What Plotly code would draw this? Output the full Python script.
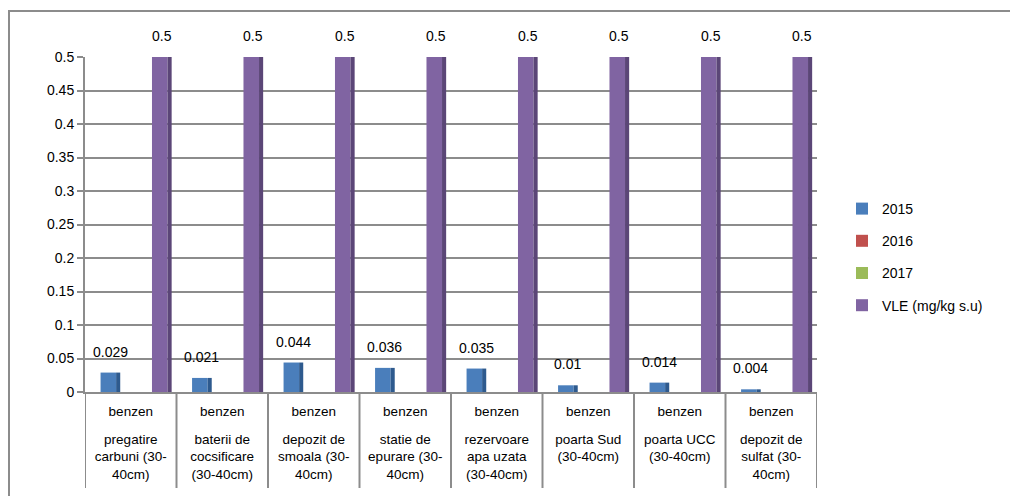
import plotly.graph_objects as go

compounds = ["benzen"] * 8
locations = [
    "pregatire<br>carbuni (30-<br>40cm)",
    "baterii de<br>cocsificare<br>(30-40cm)",
    "depozit de<br>smoala (30-<br>40cm)",
    "statie de<br>epurare (30-<br>40cm)",
    "rezervoare<br>apa uzata<br>(30-40cm)",
    "poarta Sud<br>(30-40cm)",
    "poarta UCC<br>(30-40cm)",
    "depozit de<br>sulfat (30-<br>40cm)",
]
v2015 = [0.029, 0.021, 0.044, 0.036, 0.035, 0.01, 0.014, 0.004]
v2016 = [None] * 8
v2017 = [None] * 8
vle = [0.5] * 8
y_ticks = [0, 0.05, 0.1, 0.15, 0.2, 0.25, 0.3, 0.35, 0.4, 0.45, 0.5]
y_ticktext = ["0", "0.05", "0.1", "0.15", "0.2", "0.25", "0.3", "0.35", "0.4", "0.45", "0.5"]

xs = list(range(len(locations)))
FONT = "Liberation Sans, Arial, sans-serif"
GRAY = "#8c8c8c"

# bar geometry (category units)
CENTERS = [-0.245, -0.058, 0.129, 0.317]
FRONT_W = 0.17
SIDE_W = 0.045

series = [
    ("2015", v2015, "#4a7ebb", "#2e5a8e", True),
    ("2016", v2016, "#c0504d", "#8e3432", False),
    ("2017", v2017, "#9bbb59", "#6f8a3c", False),
    ("VLE (mg/kg s.u)", vle, "#8064a2", "#5b4677", True),
]

fig = go.Figure()
annotations = []
for i, (name, vals, color, dark, lbl) in enumerate(series):
    c = CENTERS[i]
    fig.add_trace(go.Bar(
        x=xs, y=vals, name=name, legendgroup=str(i),
        width=FRONT_W, offset=c - FRONT_W / 2,
        marker=dict(color=color, line=dict(width=0)),
        hoverinfo="y",
    ))
    fig.add_trace(go.Bar(
        x=xs, y=vals, name=name, legendgroup=str(i), showlegend=False,
        width=SIDE_W, offset=c + FRONT_W / 2,
        marker=dict(color=dark, line=dict(width=0)),
        hoverinfo="skip",
    ))
    if lbl:
        for xi, v in zip(xs, vals):
            if v is None:
                continue
            annotations.append(dict(
                x=xi + c + SIDE_W / 2, y=v, xref="x", yref="y",
                text="%g" % v, showarrow=False, yanchor="bottom",
                yshift=11, font=dict(size=14, color="#000000", family=FONT)))

# invisible helper trace so the second label axis is drawn
fig.add_trace(go.Scatter(x=xs, y=[None] * len(xs), xaxis="x2", mode="markers",
                         showlegend=False, hoverinfo="skip"))

# page has an 8px body margin; coordinates below are in page pixels
OFF = 8
W, H = 1010, 488
PX0, PX1, PY0, PY1 = 85, 817, 57, 392  # plot area in page pixels
L, T = PX0 - OFF, PY0 - OFF
R, B = (W + OFF) - PX1, (H + OFF) - PY1
pw, ph = PX1 - PX0, PY1 - PY0

shapes = []
shapes.append(dict(type="rect", xref="paper", yref="paper",
                   x0=(9 - PX0) / pw, x1=(1030 - PX0) / pw,
                   y0=(PY1 - 520) / ph, y1=(PY1 - 11) / ph,
                   line=dict(color=GRAY, width=2), fillcolor="rgba(0,0,0,0)", layer="below"))
for k in range(len(xs) + 1):
    shapes.append(dict(type="line", xref="x", yref="paper",
                       x0=k - 0.5, x1=k - 0.5, y0=0, y1=(PY1 - 488) / ph,
                       line=dict(color=GRAY, width=2)))

fig.update_layout(
    width=W, height=H,
    margin=dict(l=L, r=R, t=T, b=B, pad=0),
    paper_bgcolor="white", plot_bgcolor="white",
    barmode="overlay",
    font=dict(family=FONT, size=14, color="#000000"),
    showlegend=True,
    legend=dict(x=(842 - PX0) / pw, y=(PY1 - 193) / ph, xanchor="left", yanchor="top",
                traceorder="grouped", tracegroupgap=11,
                font=dict(size=14, family=FONT), bgcolor="rgba(0,0,0,0)"),
    shapes=shapes,
    annotations=annotations,
    xaxis=dict(range=[-0.5, len(xs) - 0.5], tickvals=xs, ticktext=compounds,
               showline=True, linecolor=GRAY, linewidth=2, ticks="",
               showgrid=False, zeroline=False, tickfont=dict(size=13.5),
               ticklabelstandoff=6),
    xaxis2=dict(overlaying="x", anchor="y", side="bottom",
                range=[-0.5, len(xs) - 0.5], tickvals=xs, ticktext=locations,
                showline=False, ticks="", showgrid=False, zeroline=False,
                ticklabelstandoff=37, tickfont=dict(size=13.5)),
    yaxis=dict(range=[0, 0.5], tickvals=y_ticks, ticktext=y_ticktext,
               showline=True, linecolor=GRAY, linewidth=2,
               ticks="outside", ticklen=6, tickcolor=GRAY, tickwidth=2,
               showgrid=True, gridcolor=GRAY, gridwidth=2, zeroline=False,
               tickfont=dict(size=14)),
)

fig.write_html("out.html")
